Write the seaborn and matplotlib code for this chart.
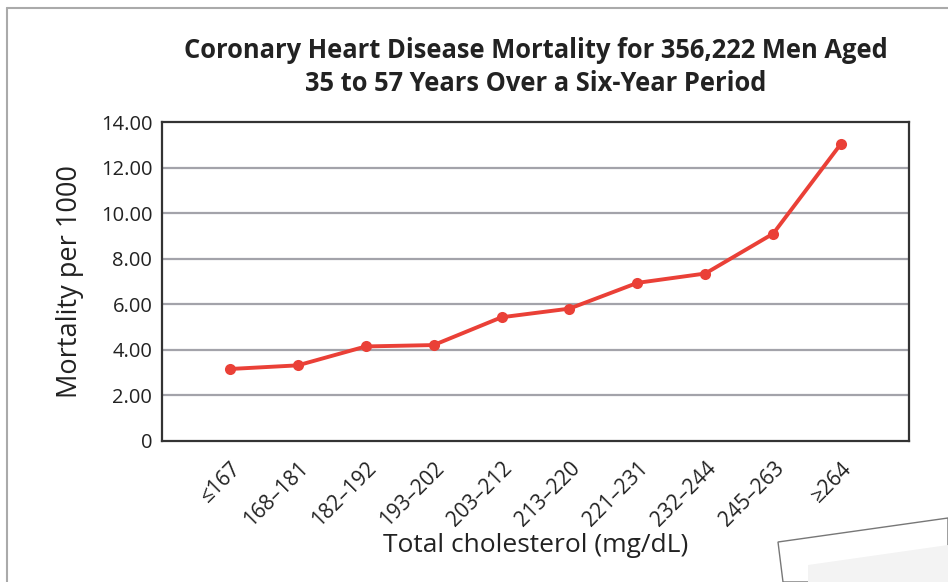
import matplotlib
matplotlib.use("Agg")
import matplotlib.pyplot as plt
import matplotlib.patches as mpatches
import seaborn as sns
import pandas as pd

categories = ["≤167", "168–181", "182–192", "193–202", "203–212",
              "213–220", "221–231", "232–244", "245–263", "≥264"]
mortality = [3.16, 3.32, 4.15, 4.21, 5.43, 5.81, 6.94, 7.35, 9.10, 13.05]
yticks = [0, 2, 4, 6, 8, 10, 12, 14]
ytick_labels = ["0", "2.00", "4.00", "6.00", "8.00", "10.00", "12.00", "14.00"]

df = pd.DataFrame({"Cholesterol": categories, "Mortality": mortality})

sns.set_style("white")
plt.rcParams["font.family"] = ["Open Sans", "DejaVu Sans"]

fig = plt.figure(figsize=(9.48, 5.82), dpi=100)
ax = fig.add_axes([162 / 948, 1 - 441 / 582, 747 / 948, 319 / 582])

for y in yticks[1:-1]:
    ax.axhline(y, color="#a3a3aa", lw=1.6, zorder=1)

sns.lineplot(data=df, x="Cholesterol", y="Mortality", ax=ax, sort=False,
             color="#ea4037", lw=2.8, marker="o", markersize=8,
             markeredgewidth=0, zorder=3)

ax.set_xlim(-1, 10)
ax.set_ylim(0, 14)
ax.set_yticks(yticks)
ax.set_yticklabels(ytick_labels, fontsize=14.5, color="#222222")
ax.set_xticks(range(len(categories)))
ax.set_xticklabels(categories, rotation=45, ha="right", rotation_mode="anchor",
                   fontsize=15, color="#222222")
ax.tick_params(axis="y", length=0, pad=7)
ax.tick_params(axis="x", length=0, pad=12)
for s in ax.spines.values():
    s.set_color("#333333")
    s.set_linewidth(1.6)

ax.set_xlabel("Total cholesterol (mg/dL)", fontsize=19, color="#222222", labelpad=2)
ax.set_ylabel("Mortality per 1000", fontsize=19.5, color="#222222", labelpad=12)
ax.set_title("Coronary Heart Disease Mortality for 356,222 Men Aged\n35 to 57 Years Over a Six-Year Period",
             fontsize=18.4, fontweight="bold", color="#222222", pad=22, linespacing=1.3)

# page border and paper corner
fig.add_artist(plt.Line2D([7 / 948, 7 / 948], [0, 1 - 8 / 582], color="#aaaaaa", lw=1.5))
fig.add_artist(plt.Line2D([7 / 948, 1], [1 - 8 / 582, 1 - 8 / 582], color="#aaaaaa", lw=1.5))
corner = mpatches.Polygon([(778 / 948, 1 - 542 / 582), (1, 1 - 518 / 582), (1, 0), (783 / 948, 0)],
                          closed=True, facecolor="white", edgecolor="#777777", lw=1,
                          transform=fig.transFigure)
fig.add_artist(corner)
inner = mpatches.Polygon([(808 / 948, 1 - 565 / 582), (1, 1 - 545 / 582), (1, 0), (808 / 948, 0)],
                         closed=True, facecolor="#f3f3f3", edgecolor="none",
                         transform=fig.transFigure)
fig.add_artist(inner)

fig.savefig("out.png", dpi=100)
